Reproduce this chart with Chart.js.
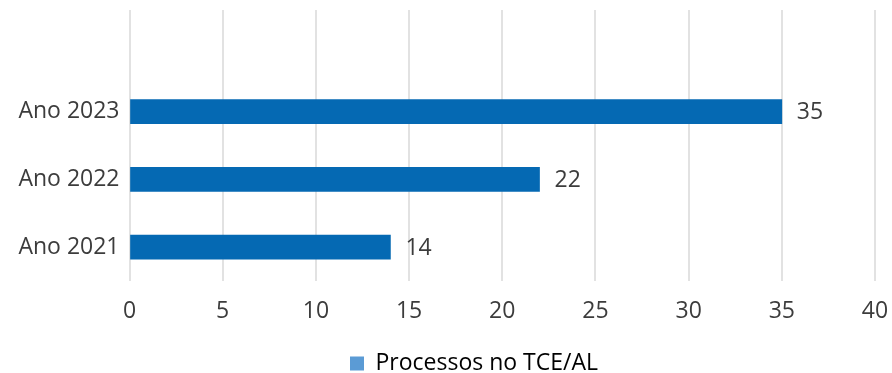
<!DOCTYPE html>
<html>
<head>
<meta charset="utf-8">
<script src="https://cdn.jsdelivr.net/npm/chart.js@4/dist/chart.umd.min.js"></script>
<style>
    html, body { margin: 0; padding: 0; background: #fff; }
    #wrap { width: 892px; height: 373px; }
</style>
</head>
<body>
<div id="wrap"><canvas id="chart"></canvas></div>
<script>
const categories = ['Ano 2021', 'Ano 2022', 'Ano 2023'];
const processos = [14, 22, 35];
const seriesName = 'Processos no TCE/AL';
const xTicks = [0, 5, 10, 15, 20, 25, 30, 35, 40];

const textColor = '#3c3c3c';
const fontFamily = '"Open Sans", sans-serif';
const fontSize = 23;

// writes the value just right of each bar
const valueLabels = {
    id: 'valueLabels',
    afterDatasetsDraw(chart) {
        const ctx = chart.ctx;
        const meta = chart.getDatasetMeta(0);
        ctx.save();
        ctx.font = fontSize + 'px ' + fontFamily;
        ctx.fillStyle = textColor;
        ctx.textAlign = 'left';
        ctx.textBaseline = 'middle';
        meta.data.forEach((bar, i) => {
            const v = chart.data.datasets[0].data[i];
            if (v === null) return;
            ctx.fillText(String(v), bar.x + 15, bar.y + 1);
        });
        ctx.restore();
    }
};

// the legend sits a bit right of the canvas centre, under the plot
const legendShift = {
    id: 'legendShift',
    afterLayout(chart) {
        chart.legend.left += 73;
    }
};

new Chart(document.getElementById('chart'), {
    type: 'bar',
    data: {
        // an empty slot on top leaves the space above Ano 2023
        labels: [...categories, ''],
        datasets: [{
            label: seriesName,
            data: [...processos, null],
            backgroundColor: '#0569b3',
            borderWidth: 0,
            barThickness: 24
        }]
    },
    options: {
        indexAxis: 'y',
        responsive: true,
        maintainAspectRatio: false,
        animation: false,
        layout: {
            padding: {left: 0, right: 17, top: 10, bottom: -12}
        },
        scales: {
            x: {
                min: 0,
                max: 40,
                afterBuildTicks: (scale) => {
                    scale.ticks = xTicks.map((v) => ({value: v}));
                },
                afterFit: (scale) => {
                    scale.height = 71;
                    scale.paddingLeft = 0;
                    scale.paddingRight = 0;
                },
                grid: {color: '#e2e2e2', lineWidth: 2, drawTicks: false},
                border: {display: false},
                ticks: {
                    color: textColor,
                    font: {family: fontFamily, size: fontSize},
                    padding: 17
                }
            },
            y: {
                reverse: true,
                grid: {display: false},
                border: {display: false},
                afterFit: (scale) => {
                    scale.width = 129.5;
                    scale.paddingTop = 0;
                    scale.paddingBottom = 0;
                },
                ticks: {
                    color: textColor,
                    font: {family: fontFamily, size: fontSize},
                    padding: 2
                }
            }
        },
        plugins: {
            legend: {
                position: 'bottom',
                labels: {
                    color: textColor,
                    font: {family: fontFamily, size: fontSize},
                    boxWidth: 14,
                    boxHeight: 14,
                    padding: 0,
                    generateLabels: (chart) => [{
                        text: seriesName,
                        fillStyle: '#5b9bd5',
                        strokeStyle: '#5b9bd5',
                        lineWidth: 0,
                        datasetIndex: 0
                    }]
                }
            },
            tooltip: {enabled: false}
        }
    },
    plugins: [valueLabels, legendShift]
});
</script>
</body>
</html>
